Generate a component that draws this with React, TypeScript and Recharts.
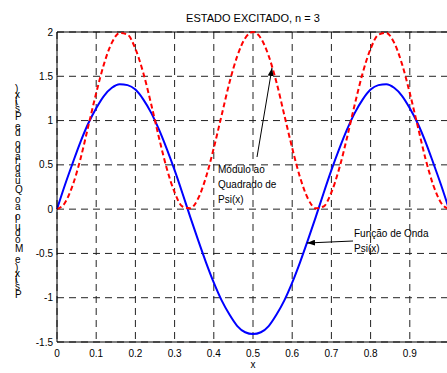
import { LineChart, Line, XAxis, YAxis, CartesianGrid, ReferenceLine } from "recharts";

// posições x (0 a 1, passo 0.02)
const xs = [
  0, 0.02, 0.04, 0.06, 0.08, 0.1, 0.12, 0.14, 0.16, 0.18, 0.2, 0.22, 0.24, 0.26, 0.28, 0.3, 0.32,
  0.34, 0.36, 0.38, 0.4, 0.42, 0.44, 0.46, 0.48, 0.5, 0.52, 0.54, 0.56, 0.58, 0.6, 0.62, 0.64, 0.66,
  0.68, 0.7, 0.72, 0.74, 0.76, 0.78, 0.8, 0.82, 0.84, 0.86, 0.88, 0.9, 0.92, 0.94, 0.96, 0.98, 1,
];

// Função de Onda Psi(x) (linha azul)
const psi = [
  0, 0.27, 0.52, 0.76, 0.97, 1.14, 1.28, 1.37, 1.41, 1.4, 1.35, 1.24, 1.09, 0.9, 0.68, 0.44, 0.18,
  -0.09, -0.35, -0.6, -0.83, -1.03, -1.19, -1.32, -1.39, -1.41, -1.39, -1.32, -1.19, -1.03, -0.83,
  -0.6, -0.35, -0.09, 0.18, 0.44, 0.68, 0.9, 1.09, 1.24, 1.35, 1.4, 1.41, 1.37, 1.28, 1.14, 0.97,
  0.76, 0.52, 0.27, 0,
];

// Módulo ao Quadrado de Psi(x) (tracejado vermelho)
const psi2 = [
  0, 0.07, 0.27, 0.57, 0.94, 1.31, 1.64, 1.88, 1.99, 1.97, 1.81, 1.54, 1.19, 0.81, 0.46, 0.19, 0.03,
  0.01, 0.12, 0.36, 0.69, 1.06, 1.43, 1.73, 1.93, 2, 1.93, 1.73, 1.43, 1.06, 0.69, 0.36, 0.12, 0.01,
  0.03, 0.19, 0.46, 0.81, 1.19, 1.54, 1.81, 1.97, 1.99, 1.88, 1.64, 1.31, 0.94, 0.57, 0.27, 0.07, 0,
];

// o rótulo "1" fica fora da janela, como na figura original
const xTicks = [0, 0.1, 0.2, 0.3, 0.4, 0.5, 0.6, 0.7, 0.8, 0.9];
const yTicks = [-1.5, -1, -0.5, 0, 0.5, 1, 1.5, 2];

const data = xs.map((x, i) => ({ x, psi: psi[i], psi2: psi2[i] }));

const FONT = "Arial, 'Liberation Sans', sans-serif";
const tickStyle = { fontSize: 10, fill: "#000", fontFamily: FONT };

export default function App() {
  return (
    <div style={{ position: "absolute", left: 0, top: 0, width: 447, height: 373, overflow: "hidden", background: "#fff" }}>
      <LineChart width={480} height={373} data={data} margin={{ top: 32, right: 31, bottom: 0, left: 0 }}>
        <CartesianGrid stroke="#222" strokeDasharray="7 5" horizontalValues={yTicks} verticalValues={xTicks} />
        <XAxis
          dataKey="x"
          type="number"
          domain={[0, 1]}
          ticks={xTicks}
          height={31}
          tickSize={0}
          tickMargin={8}
          tick={tickStyle}
          axisLine={{ stroke: "#000" }}
          interval={0}
        />
        <YAxis
          type="number"
          domain={[-1.5, 2]}
          ticks={yTicks}
          width={57}
          tickSize={0}
          tickMargin={4}
          tick={tickStyle}
          axisLine={{ stroke: "#000" }}
          interval={0}
        />
        <ReferenceLine y={2} stroke="#000" />
        <ReferenceLine x={1} stroke="#000" />
        <Line
          type="monotone"
          dataKey="psi"
          stroke="#0000ff"
          strokeWidth={2}
          dot={false}
          isAnimationActive={false}
        />
        <Line
          type="monotone"
          dataKey="psi2"
          stroke="#ff0000"
          strokeWidth={2}
          strokeDasharray="5 3"
          dot={false}
          isAnimationActive={false}
        />
      </LineChart>
      <svg width={447} height={373} style={{ position: "absolute", left: 0, top: 0, pointerEvents: "none" }}>
        <defs>
          <marker id="ah" markerWidth="8" markerHeight="6" refX="8" refY="3" orient="auto" markerUnits="userSpaceOnUse">
            <path d="M0,0 L8,3 L0,6 z" fill="#000" />
          </marker>
        </defs>
        <text x={253} y={22} textAnchor="middle" fontSize={11} fontFamily={FONT} fill="#000">
          ESTADO EXCITADO, n = 3
        </text>
        <text x={253} y={368} textAnchor="middle" fontSize={10} fontFamily={FONT} fill="#000">
          x
        </text>
        <text
          transform="translate(15,193) rotate(-90)"
          textAnchor="middle"
          fontSize={10}
          fontFamily={FONT}
          fill="#000"
          rotate="90"
          letterSpacing={1}
        >
          Psi(x) e Módulo ao Quadrado de Psi(x)
        </text>
        <line x1={257} y1={157} x2={272} y2={68} stroke="#000" strokeWidth={1} markerEnd="url(#ah)" />
        <text fontSize={10} fontFamily={FONT} fill="#000">
          <tspan x={218} y={173}>Módulo ao</tspan>
          <tspan x={218} y={188}>Quadrado de</tspan>
          <tspan x={218} y={203}>Psi(x)</tspan>
        </text>
        <line x1={353} y1={241} x2={307} y2={243} stroke="#000" strokeWidth={1} markerEnd="url(#ah)" />
        <text fontSize={10} fontFamily={FONT} fill="#000">
          <tspan x={354} y={237}>Função de Onda</tspan>
          <tspan x={354} y={252}>Psi(x)</tspan>
        </text>
      </svg>
    </div>
  );
}
